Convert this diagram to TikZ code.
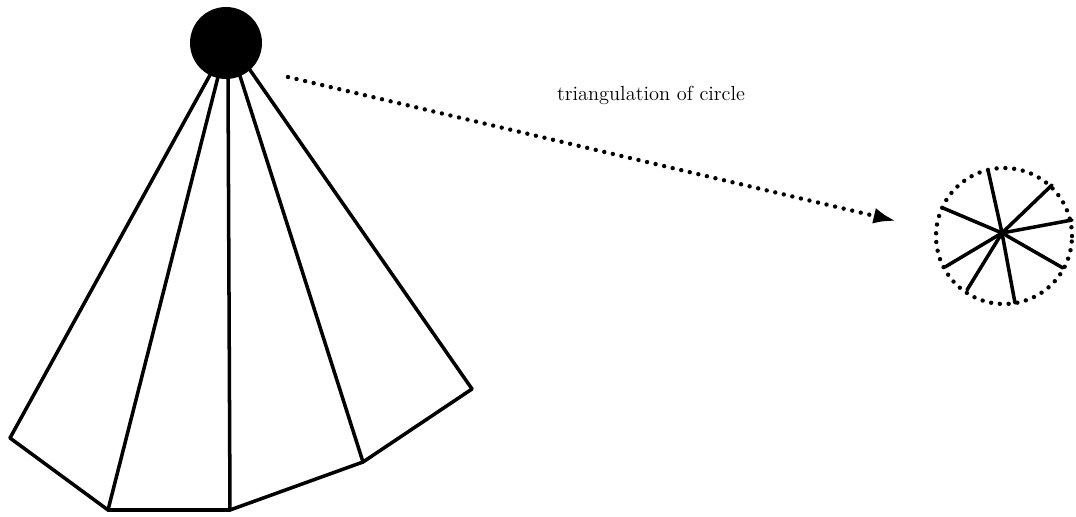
\documentclass[tikz,border=0pt]{standalone}
\usetikzlibrary{arrows.meta,positioning,calc}

\begin{document}
\begin{tikzpicture}[
  x=0.02cm, y=-0.02cm,
  >={Latex[length=4.5mm,width=3.2mm]},
  edge/.style={line width=2pt, line join=round, line cap=round},
  dots/.style={line width=2.5pt, line cap=round, dash pattern=on 0pt off 5pt},
]
\useasboundingbox (0,0) rectangle (1076,517);

% source disc
\node[circle, fill=black, minimum size=1.44cm, inner sep=0pt] (disc) at (226,43) {};

% fan of panels
\coordinate (s1) at (210,75);
\coordinate (s2) at (218,77);
\coordinate (s3) at (228,78);
\coordinate (s4) at (240,76);
\coordinate (s5) at (250,70);
\coordinate (b1) at (10,438);
\coordinate (b2) at (108,510);
\coordinate (b3) at (230,510);
\coordinate (b4) at (363,462);
\coordinate (b5) at (472,389);
\foreach \i in {1,...,5} \draw[edge] (s\i) -- (b\i);
\draw[edge] (b1) -- (b2) -- (b3) -- (b4) -- (b5);

% triangulated circle
\node[circle, draw, dots, minimum size=2.72cm, inner sep=0pt] (tri) at (1004,236) {};
\coordinate (hub) at (1002,233);
\foreach \p in {(988,170),(1052,185),(1072,220),(1063,268),(1015,303),(967,290),(945,267),(943,208)}
  \draw[edge] (hub) -- \p;

% mapping arrow
\coordinate (from) at (288,77);
\coordinate (to) at (896,221);
\draw[dots, ->] (from) -- (to);
\node[font=\fontsize{11.6}{13}\selectfont] (lbl) at (651,95) {triangulation of circle};
\end{tikzpicture}
\end{document}
